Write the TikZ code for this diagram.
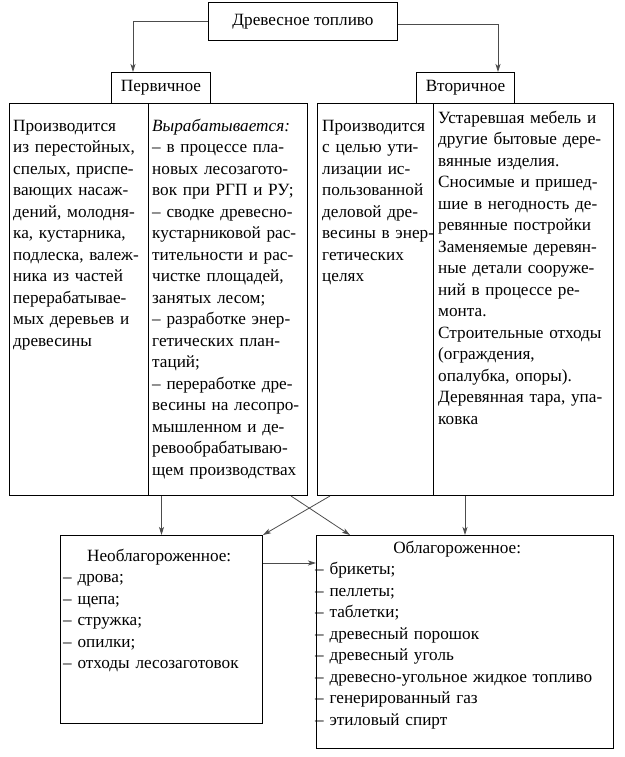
\documentclass[tikz,border=0pt]{standalone}
\usepackage{fontspec}
\setmainfont{Liberation Serif}
\usetikzlibrary{arrows.meta}

% one typeset line: justified, ragged or centred
\newcommand\jl[1]{\hbox to\linewidth{\strut#1}}
\newcommand\rl[1]{\hbox to\linewidth{\strut#1\hfil}}
\newcommand\cl[1]{\hbox to\linewidth{\strut\hfil#1\hfil}}

\begin{document}
\begin{tikzpicture}[x=1pt,y=-1pt,
  font=\fontsize{17.2}{21.5}\selectfont,
  frame/.style={draw,line width=1pt,anchor=north west,inner sep=0pt},
  txt/.style={anchor=north west,inner sep=0pt,text width=#1},
  conn/.style={draw=black!70,line width=0.8pt,
    -{Stealth[length=8pt,width=5pt,inset=2pt]}}]
  \useasboundingbox (0,0) rectangle (624,757);

  % Top box and the two kinds of wood fuel.
  \node[frame,minimum width=189pt,minimum height=38pt] (fuel) at (208,2) {Древесное топливо};
  \node[frame,minimum width=99pt,minimum height=31pt] (prim) at (111,72) {Первичное};
  \node[frame,minimum width=98pt,minimum height=31pt] (sec) at (416,72) {Вторичное};
  \draw[conn] (fuel.west) -| ([xshift=22pt]prim.north west);
  \draw[conn] ([yshift=-3pt]fuel.east) -| ([xshift=-17pt]sec.north east);

  % Two-column description boxes.
  \node[frame,minimum width=139pt,minimum height=392pt] (lA) at (9,103) {};
  \node[frame,minimum width=159pt,minimum height=392pt] (lB) at (148,103) {};
  \node[frame,minimum width=116pt,minimum height=392pt] (rC) at (317,103) {};
  \node[frame,minimum width=180pt,minimum height=392pt] (rD) at (433,103) {};

  \node[txt=134pt] (lAt) at (13,116) {%
    \rl{Производится}
    \jl{из перестойных,}
    \jl{спелых, приспе-}
    \jl{вающих насаж-}
    \jl{дений, молодня-}
    \jl{ка, кустарника,}
    \jl{подлеска, валеж-}
    \jl{ника из частей}
    \rl{перерабатывае-}
    \jl{мых деревьев и}
    \rl{древесины}};
  \node[txt=150pt] (lBt) at (152,116) {%
    \rl{\textit{Вырабатывается:}}
    \jl{– в процессе пла-}
    \jl{новых лесозаготo-}
    \rl{вок при РГП и РУ;}
    \jl{– сводке древесно-}
    \jl{кустарниковой рас-}
    \jl{тительности и рас-}
    \jl{чистке площадей,}
    \rl{занятых лесом;}
    \jl{– разработке энер-}
    \jl{гетических план-}
    \rl{таций;}
    \jl{– переработке дре-}
    \jl{весины на лесопро-}
    \jl{мышленном и де-}
    \rl{ревообрабатываю-}
    \rl{щем производствах}};
  \node[txt=105pt] (rCt) at (322,116) {%
    \rl{Производится}
    \jl{с целью ути-}
    \jl{лизации ис-}
    \rl{пользованной}
    \jl{деловой дре-}
    \jl{весины в энер-}
    \rl{гетических}
    \rl{целях}};
  \node[txt=169pt] (rDt) at (438,108) {%
    \jl{Устаревшая мебель и}
    \jl{другие бытовые дере-}
    \rl{вянные изделия.}
    \jl{Сносимые и пришед-}
    \jl{шие в негодность де-}
    \rl{ревянные постройки}
    \jl{Заменяемые деревян-}
    \jl{ные детали сооруже-}
    \jl{ний в процессе ре-}
    \rl{монта.}
    \jl{Строительные отходы}
    \rl{(ограждения,}
    \rl{опалубка, опоры).}
    \jl{Деревянная тара, упа-}
    \rl{ковка}};

  % Unrefined and refined fuel.
  \node[frame,minimum width=202pt,minimum height=188pt] (nb) at (60,535) {};
  \node[frame,minimum width=297pt,minimum height=213pt] (ob) at (316,535) {};
  \node[txt=192pt] (nbt) at (63,546) {%
    \cl{Необлагороженное:}
    \rl{– дрова;}
    \rl{– щепа;}
    \rl{– стружка;}
    \rl{– опилки;}
    \rl{– отходы лесозаготовок}};
  \node[txt=284pt] (obt) at (315,538) {%
    \cl{Облагороженное:}
    \rl{– брикеты;}
    \rl{– пеллеты;}
    \rl{– таблетки;}
    \rl{– древесный порошок}
    \rl{– древесный уголь}
    \rl{– древесно-угольное жидкое топливо}
    \rl{– генерированный газ}
    \rl{– этиловый спирт}};

  \draw[conn] (nb.north |- lB.south) -- (nb.north);
  \draw[conn] (ob.north |- rD.south) -- (ob.north);
  \draw[conn] ([xshift=-17pt]lB.south east) -- ([xshift=34pt]ob.north west);
  \draw[conn] ([xshift=13pt]rC.south west) -- (nb.north east);
  \draw[conn] ([yshift=-28pt]nb.north east) -- ([yshift=-28pt]ob.north west);
\end{tikzpicture}
\end{document}
